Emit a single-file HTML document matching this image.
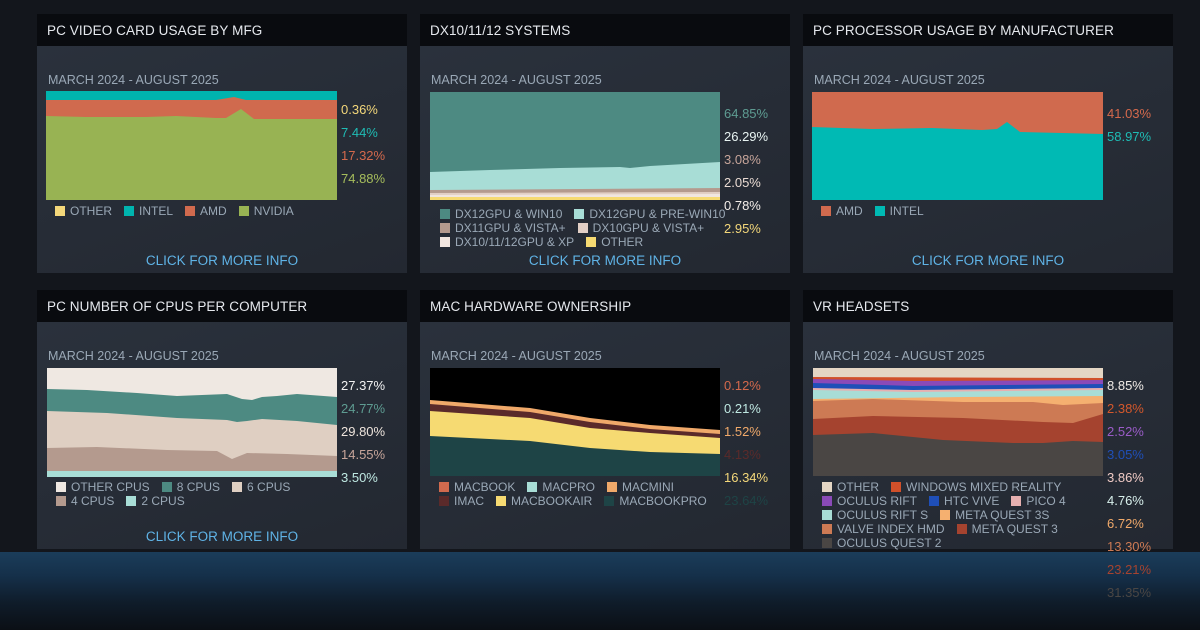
<!DOCTYPE html>
<html><head><meta charset="utf-8"><style>
*{margin:0;padding:0;box-sizing:border-box}
html,body{width:1200px;height:630px;overflow:hidden}
body{background:#13161c;font-family:"Liberation Sans",sans-serif;position:relative}
.glow{position:absolute;left:0;top:552px;width:1200px;height:78px;background:linear-gradient(#1b3d5a 0%,#15304a 30%,#0f1c2a 65%,#0b0f15 100%)}
.p{position:absolute;width:370px}
.h{height:32px;background:#090b0f;color:#e6e9ee;font-size:13.5px;padding:9px 10px;letter-spacing:.1px}
.b{height:227px;background:linear-gradient(160deg,#2a313c,#232831);position:relative}
.d{position:absolute;left:11px;top:27px;font-size:12.5px;color:#9aa8b6}
svg.c{position:absolute;left:9px;top:45px}
.v{position:absolute;left:304px;top:56px;font-size:13px;line-height:23px}
.lg{position:absolute;left:18px;top:157px;font-size:12px;color:#9aa8b6;line-height:14px}
.lg i{display:inline-block;width:10px;height:10px;margin:0 5px 0 0;vertical-align:-1px}
.lg span{margin-right:12px}
.ci{position:absolute;left:0;width:370px;text-align:center;top:207px;color:#5fb3e6;font-size:13.5px}
</style></head><body>
<div class="glow"></div>

<div class="p" style="left:37px;top:14px"><div class="h">PC VIDEO CARD USAGE BY MFG</div><div class="b">
<div class="d">MARCH 2024 - AUGUST 2025</div>
<svg class="c" width="291" height="109"><rect width="291" height="109" fill="#00b4ae"/>
<polygon points="0,9 170,9 188,6 200,9 291,9 291,109 0,109" fill="#d06a4e"/>
<polygon points="0,25 40,26 100,26 130,25 170,27 180,27 195,18 208,28 250,28 291,28 291,109 0,109" fill="#98b353"/></svg>
<div class="v" style="left:304px;top:52px"><div style="color:#f3d77a">0.36%</div><div style="color:#1fbcb5">7.44%</div><div style="color:#d4694c">17.32%</div><div style="color:#a6bd5c">74.88%</div></div>
<div class="lg" style="top:158px"><i style="background:#f3d77a"></i><span>OTHER</span><i style="background:#00b4ae"></i><span>INTEL</span><i style="background:#d06a4e"></i><span>AMD</span><i style="background:#98b353"></i><span>NVIDIA</span></div>
<div class="ci">CLICK FOR MORE INFO</div></div></div>

<div class="p" style="left:420px;top:14px"><div class="h">DX10/11/12 SYSTEMS</div><div class="b">
<div class="d">MARCH 2024 - AUGUST 2025</div>
<svg class="c" width="290" height="108" style="left:10px;top:46px"><rect width="290" height="108" fill="#4d8a82"/>
<polygon points="0,80 60,78 130,76 190,75 200,76 220,74 290,70 290,108 0,108" fill="#a8ddd6"/>
<polygon points="0,98 290,96 290,108 0,108" fill="#b49a8e"/>
<polygon points="0,101 290,100 290,108 0,108" fill="#e2cfc5"/>
<polygon points="0,103 290,102 290,108 0,108" fill="#f1e6e0"/>
<rect y="105" width="290" height="3" fill="#f6da72"/></svg>
<div class="v" style="left:304px;top:56px"><div style="color:#5e9c92">64.85%</div><div style="color:#e8f4f2">26.29%</div><div style="color:#c7a59a">3.08%</div><div style="color:#eadbd3">2.05%</div><div style="color:#f4eeea">0.78%</div><div style="color:#f3d77a">2.95%</div></div>
<div class="lg" style="top:161px;left:20px"><i style="background:#4d8a82"></i><span>DX12GPU &amp; WIN10</span><i style="background:#a8ddd6"></i><span>DX12GPU &amp; PRE-WIN10</span><br><i style="background:#b49a8e"></i><span>DX11GPU &amp; VISTA+</span><i style="background:#e2cfc5"></i><span>DX10GPU &amp; VISTA+</span><br><i style="background:#f1e6e0"></i><span>DX10/11/12GPU &amp; XP</span><i style="background:#f6da72"></i><span>OTHER</span></div>
<div class="ci">CLICK FOR MORE INFO</div></div></div>

<div class="p" style="left:803px;top:14px"><div class="h">PC PROCESSOR USAGE BY MANUFACTURER</div><div class="b">
<div class="d">MARCH 2024 - AUGUST 2025</div>
<svg class="c" width="291" height="108" style="left:9px;top:46px"><rect width="291" height="108" fill="#d06a4e"/>
<polygon points="0,35 60,37 120,36 170,38 185,37 195,30 208,40 250,41 291,42 291,108 0,108" fill="#00bab4"/></svg>
<div class="v" style="left:304px;top:56px"><div style="color:#d4694c">41.03%</div><div style="color:#1fbcb5">58.97%</div></div>
<div class="lg" style="top:158px"><i style="background:#d06a4e"></i><span>AMD</span><i style="background:#00bab4"></i><span>INTEL</span></div>
<div class="ci">CLICK FOR MORE INFO</div></div></div>

<div class="p" style="left:37px;top:290px"><div class="h">PC NUMBER OF CPUS PER COMPUTER</div><div class="b">
<div class="d">MARCH 2024 - AUGUST 2025</div>
<svg class="c" width="290" height="109" style="left:10px;top:46px"><rect width="290" height="109" fill="#efe8e2"/>
<polygon points="0,21 40,22 90,25 130,28 180,26 195,31 205,32 215,29 230,28 250,26 290,29 290,109 0,109" fill="#4d8a82"/>
<polygon points="0,43 60,45 130,50 180,52 190,54 200,53 215,51 250,53 290,57 290,109 0,109" fill="#dfcfc2"/>
<polygon points="0,80 50,79 120,82 170,83 185,91 200,85 240,86 290,88 290,109 0,109" fill="#b49a8e"/>
<polygon points="0,103 290,103 290,109 0,109" fill="#a8ddd6"/></svg>
<div class="v" style="left:304px;top:52px"><div style="color:#f2f2f2">27.37%</div><div style="color:#5e9c92">24.77%</div><div style="color:#eee4dc">29.80%</div><div style="color:#c7a59a">14.55%</div><div style="color:#bfe8e2">3.50%</div></div>
<div class="lg" style="top:158px;left:19px"><i style="background:#efe8e2"></i><span>OTHER CPUS</span><i style="background:#4d8a82"></i><span>8 CPUS</span><i style="background:#dfcfc2"></i><span>6 CPUS</span><br><i style="background:#b49a8e"></i><span>4 CPUS</span><i style="background:#a8ddd6"></i><span>2 CPUS</span></div>
<div class="ci" style="top:207px">CLICK FOR MORE INFO</div></div></div>

<div class="p" style="left:420px;top:290px"><div class="h">MAC HARDWARE OWNERSHIP</div><div class="b">
<div class="d">MARCH 2024 - AUGUST 2025</div>
<svg class="c" width="290" height="108" style="left:10px;top:46px"><rect width="290" height="108" fill="#000"/>
<polygon points="0,32 100,40 160,50 220,57 290,62 290,108 0,108" fill="#f0a96a"/>
<polygon points="0,36 100,44 160,54 220,61 290,66 290,108 0,108" fill="#5a2a2a"/>
<polygon points="0,43 100,50 160,60 220,65 290,70 290,108 0,108" fill="#f6da72"/>
<polygon points="0,68 100,73 160,80 220,84 290,86 290,108 0,108" fill="#1e4446"/></svg>
<div class="v" style="left:304px;top:52px"><div style="color:#d4694c">0.12%</div><div style="color:#bfe8e2">0.21%</div><div style="color:#f0a96a">1.52%</div><div style="color:#5a2a2a">4.13%</div><div style="color:#f3d77a">16.34%</div><div style="color:#1e4446">23.64%</div></div>
<div class="lg" style="top:158px;left:19px"><i style="background:#d06a4e"></i><span>MACBOOK</span><i style="background:#a8ddd6"></i><span>MACPRO</span><i style="background:#f0a96a"></i><span>MACMINI</span><br><i style="background:#5a2a2a"></i><span>IMAC</span><i style="background:#f6da72"></i><span>MACBOOKAIR</span><i style="background:#1e4446"></i><span>MACBOOKPRO</span></div>
</div></div>

<div class="p" style="left:803px;top:290px"><div class="h">VR HEADSETS</div><div class="b">
<div class="d">MARCH 2024 - AUGUST 2025</div>
<svg class="c" width="290" height="108" style="left:10px;top:46px"><rect width="290" height="108" fill="#e4d6c4"/>
<polygon points="0,9 290,10 290,108 0,108" fill="#d0502a"/>
<polygon points="0,11 100,13 290,12 290,108 0,108" fill="#8a4ab8"/>
<polygon points="0,15 100,18 290,16 290,108 0,108" fill="#1f4fb8"/>
<polygon points="0,20 100,22 290,20 290,108 0,108" fill="#e6b0b0"/>
<polygon points="0,22 100,24 290,22 290,108 0,108" fill="#a8ddd6"/>
<polygon points="0,31 150,29 290,28 290,108 0,108" fill="#f5b070"/>
<polygon points="0,33 60,31 150,34 220,34 250,37 290,35 290,108 0,108" fill="#cd7a54"/>
<polygon points="0,51 60,48 150,50 230,54 260,55 290,46 290,108 0,108" fill="#a5432f"/>
<polygon points="0,67 60,65 130,72 200,75 230,75 260,73 290,74 290,108 0,108" fill="#4a4644"/></svg>
<div class="v" style="left:304px;top:52px"><div style="color:#f0ebe6">8.85%</div><div style="color:#d4582c">2.38%</div><div style="color:#9a5cc8">2.52%</div><div style="color:#1f4fb8">3.05%</div><div style="color:#eec9c4">3.86%</div><div style="color:#d8f0ec">4.76%</div><div style="color:#f0a96a">6.72%</div><div style="color:#cd7a54">13.30%</div><div style="color:#a5432f">23.21%</div><div style="color:#4a4644">31.35%</div></div>
<div class="lg" style="top:158px;left:19px"><i style="background:#e4d6c4"></i><span>OTHER</span><i style="background:#d0502a"></i><span>WINDOWS MIXED REALITY</span><br><i style="background:#8a4ab8"></i><span>OCULUS RIFT</span><i style="background:#1f4fb8"></i><span>HTC VIVE</span><i style="background:#e6b0b0"></i><span>PICO 4</span><br><i style="background:#a8ddd6"></i><span>OCULUS RIFT S</span><i style="background:#f5b070"></i><span>META QUEST 3S</span><br><i style="background:#cd7a54"></i><span>VALVE INDEX HMD</span><i style="background:#a5432f"></i><span>META QUEST 3</span><br><i style="background:#4a4644"></i><span>OCULUS QUEST 2</span></div>
</div></div>
</body></html>
